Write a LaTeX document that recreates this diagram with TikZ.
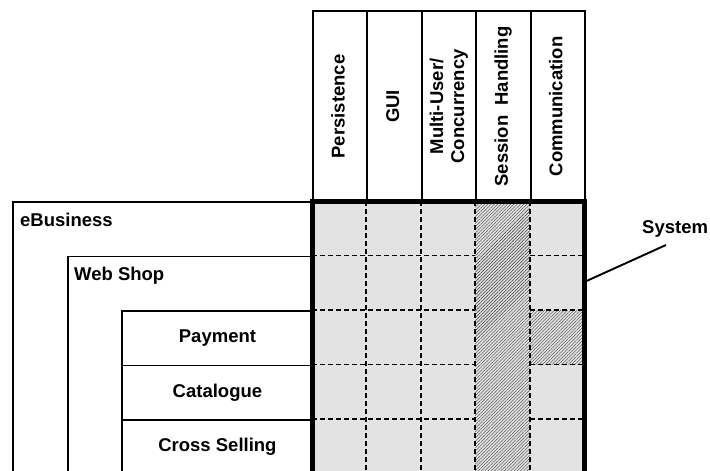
\documentclass[tikz,border=0pt]{standalone}
\usepackage{fontspec}
\setmainfont{Liberation Sans}
\usetikzlibrary{patterns.meta,calc}
\definecolor{cellgray}{HTML}{E3E3E3}

\begin{document}
\begin{tikzpicture}[x=1pt, y=-1pt,
  lbl/.style={font=\fontsize{18.5}{20}\selectfont\bfseries, inner sep=0pt},
  boxline/.style={draw=black, line width=1.9pt},
  ctxbox/.style={boxline, anchor=north west, inner sep=0pt},
  rowbox/.style={ctxbox, font=\fontsize{18.5}{20}\selectfont\bfseries,
                 minimum width=191pt, minimum height=54.5pt,
                 text height=13.5pt, text depth=4pt},
  headcell/.style={boxline, anchor=north west, inner sep=0pt,
                   minimum width=54.4pt, minimum height=191pt},
  headlbl/.style={lbl, rotate=90, anchor=base},
  gridline/.style={draw=black, line width=1.9pt, dash pattern=on 5pt off 3pt},
  frame/.style={draw=black, line width=5pt, line join=miter},
  hatch/.style={pattern={Lines[angle=45, distance=2.3pt, line width=0.4pt]},
                pattern color=black!80},
  leader/.style={draw=black, line width=1.9pt}]
\useasboundingbox (0,0) rectangle (710,471);
\clip (0,0) rectangle (710,471);

% nested context boxes (they run on below the lower edge)
\node[ctxbox, minimum width=300pt, minimum height=320pt] (ebiz) at (12,201) {};
\node[ctxbox, minimum width=245pt, minimum height=260pt] (shop) at (67,255.5) {};
\node[rowbox] (pay) at (121,310) {Payment};
\node[rowbox] (cat) at (121,364.5) {Catalogue};
\node[rowbox] (cross) at (121,419) {Cross Selling};
\node[lbl, anchor=base west] (ebizlbl) at (20,226) {eBusiness};
\node[lbl, anchor=base west] (shoplbl) at (74,280.5) {Web Shop};

% concern matrix: grey cells
\fill[cellgray] (312,201) rectangle (584,480);
% hatched cells: the whole session column and communication/payment
\fill[hatch] (475.2,201) rectangle (529.6,480);
\fill[hatch] (529.6,310) rectangle (584,364.5);

% dashed cell borders
\foreach \cx in {366.4,420.8,475.2,529.6}
  \draw[gridline] (\cx,201) -- (\cx,480);
\foreach \ry in {255.5,310,364.5,419} {
  \draw[gridline] (312,\ry) -- (475.2,\ry);
  \draw[gridline] (529.6,\ry) -- (584,\ry);
}

% column headers
\node[headcell] (hpers) at (312,10) {};
\node[headcell] (hgui) at (366.4,10) {};
\node[headcell] (hmulti) at (420.8,10) {};
\node[headcell] (hsess) at (475.2,10) {};
\node[headcell] (hcomm) at (529.6,10) {};
\node[headlbl] (lpers) at ($(hpers.center)+(4.5,0)$) {Persistence};
\node[headlbl] (lgui) at ($(hgui.center)+(4.5,0)$) {GUI};
\node[lbl, rotate=90, align=center] (lmulti) at (hmulti.center) {Multi-User/\\[1pt]Concurrency};
\node[headlbl] (lsess) at ($(hsess.center)+(4.5,0)$) {Session\hspace{10pt}Handling};
\node[headlbl] (lcomm) at ($(hcomm.center)+(4.5,0)$) {Communication};

% heavy system frame
\draw[frame] (312,480) -- (312,201) -- (584,201) -- (584,480);

% system callout
\node[lbl, anchor=base west] (sys) at (642,233) {System};
\coordinate (sysedge) at (586.5,281);
\coordinate (systip) at (666,245);
\draw[leader] (sysedge) -- (systip);
\end{tikzpicture}
\end{document}
